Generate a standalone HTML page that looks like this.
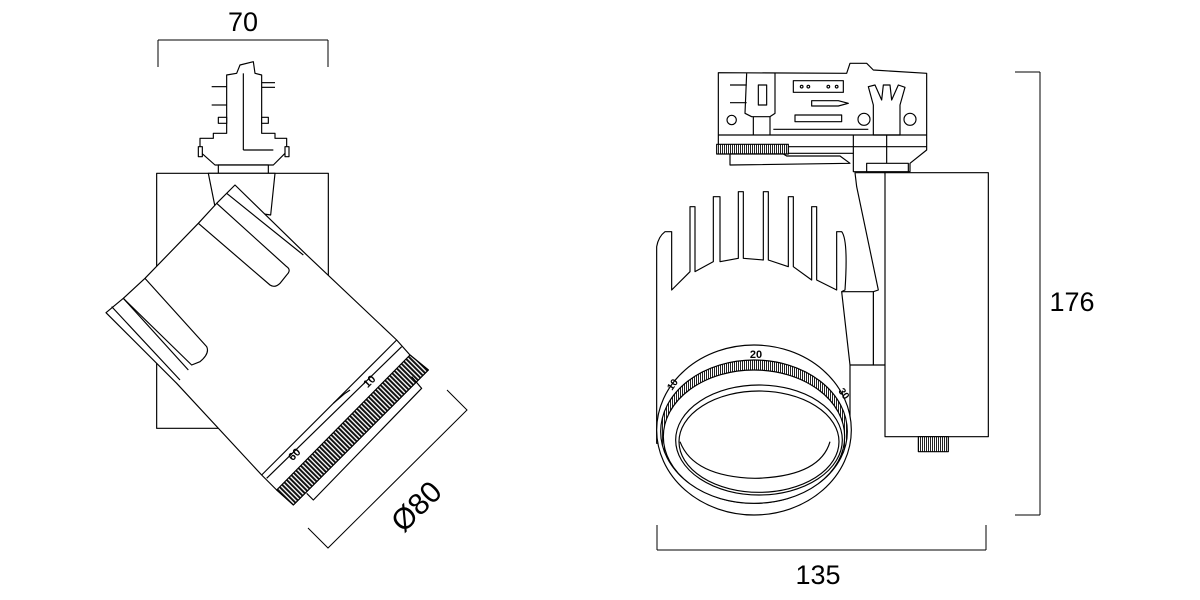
<!DOCTYPE html>
<html><head><meta charset="utf-8"><style>html,body{margin:0;padding:0;background:#fff}svg{display:block}text{font-family:"Liberation Sans",Arial,sans-serif}</style></head>
<body>
<svg width="1200" height="600" viewBox="0 0 1200 600" xmlns="http://www.w3.org/2000/svg">
<defs>
<pattern id="kn" width="10" height="10" patternUnits="userSpaceOnUse" patternTransform="rotate(-45)">
<rect width="10" height="10" fill="#fff"/><rect width="6" height="10" fill="#111"/></pattern>
<pattern id="kv" width="6" height="6" patternUnits="userSpaceOnUse">
<rect width="6" height="6" fill="#fff"/><rect width="3" height="6" fill="#222"/></pattern>
</defs>
<g stroke="#000" stroke-width="1" fill="none">
<line x1="158" y1="40" x2="328" y2="40"/><line x1="158" y1="40" x2="158" y2="67"/><line x1="328" y1="40" x2="328" y2="67"/>
</g>
<text x="243" y="31" font-size="27" text-anchor="middle">70</text>

<g transform="translate(100 40) scale(0.33333)" stroke="#000" stroke-width="3.5" fill="#fff" stroke-linejoin="round">
<rect x="170" y="400" width="515" height="765"/>
<polygon points="300,295 340,295 340,280 380,280 380,105 410,100 420,75 460,65 465,100 485,105 485,280 525,280 525,295 560,295 560,335 520,375 345,375 300,335"/>
<rect x="355" y="375" width="150" height="25"/>
<line x1="430" y1="100" x2="430" y2="330"/><line x1="430" y1="330" x2="520" y2="330"/>
<line x1="335" y1="140" x2="380" y2="140"/><line x1="485" y1="128" x2="525" y2="128"/><line x1="485" y1="142" x2="525" y2="142"/>
<line x1="335" y1="195" x2="380" y2="195"/><rect x="355" y="232" width="25" height="18"/><rect x="485" y="232" width="20" height="18"/>
<rect x="295" y="320" width="12" height="30"/><rect x="555" y="320" width="12" height="30"/>
<polygon points="325,400 525,400 512,525 345,500"/>
<polygon points="18,818 70,775 135,715 295,550 350,490 405,435 615,640 890,900 930,945 985,990 580,1395 530,1350 485,1305 230,1030"/>
<g fill="none">
<path d="M295,550 L510,735 Q525,745 540,730 L560,705 Q575,690 560,680 L350,490"/>
<line x1="380" y1="460" x2="610" y2="645"/>
<line x1="70" y1="775" x2="265" y2="990"/>
<path d="M135,715 L320,920 Q330,940 300,965 L275,975 L70,775"/>
<line x1="35" y1="800" x2="240" y2="1020"/>
<line x1="890" y1="900" x2="485" y2="1305"/>
<line x1="905" y1="920" x2="500" y2="1315"/>
<path d="M700,1090 L735,1060 L750,1050"/>
</g>
<polygon points="930,945 985,990 580,1395 530,1350" fill="url(#kn)"/>
<polyline points="935,1010 965,1045 640,1380 620,1360" fill="none"/>
</g>
<text x="372" y="384" font-size="11" font-weight="bold" transform="rotate(-45 372 384)" text-anchor="middle">10</text>
<text x="297" y="457" font-size="11" font-weight="bold" transform="rotate(-45 297 457)" text-anchor="middle">60</text>
<polyline points="308,528 328,548 467,410 447,390" fill="none" stroke="#000" stroke-width="1"/>
<text x="413" y="518" font-size="30" transform="rotate(-45 413 503)" text-anchor="middle">Ø80</text>

<g transform="translate(640 50) scale(0.33333)" stroke="#000" stroke-width="3.5" fill="#fff" stroke-linejoin="round">
<polygon points="645,368 735,368 745,720 735,945 700,945 700,725 715,720 650,410"/>
<rect x="605" y="725" width="95" height="220"/>
<rect x="735" y="368" width="310" height="792"/>
<rect x="835" y="1160" width="90" height="45" fill="url(#kv)"/>
<polygon points="270,310 640,310 640,365 810,365 810,340 860,300 860,70 700,60 680,40 630,40 620,70 235,68 235,285 270,310"/>
<polygon points="230,283 445,283 445,312 230,312" fill="url(#kv)"/>
<polygon points="270,312 430,312 440,318 600,318 630,340 270,345" />
<rect x="680" y="340" width="125" height="25"/>
<g fill="none">
<line x1="235" y1="255" x2="860" y2="255"/><line x1="445" y1="290" x2="860" y2="290"/>
<line x1="400" y1="238" x2="685" y2="238"/>
<line x1="640" y1="255" x2="640" y2="310"/><line x1="740" y1="255" x2="740" y2="340"/>
<path d="M320,70 L315,190 L335,200 L390,200 L405,190 L405,70"/>
<line x1="340" y1="200" x2="340" y2="255"/><line x1="390" y1="200" x2="390" y2="255"/>
<rect x="355" y="105" width="25" height="60"/>
<line x1="270" y1="105" x2="320" y2="105"/><line x1="270" y1="158" x2="320" y2="158"/>
<circle cx="275" cy="210" r="14"/>
<rect x="460" y="92" width="150" height="35"/>
<circle cx="485" cy="110" r="4"/><circle cx="505" cy="110" r="4"/><circle cx="565" cy="110" r="4"/><circle cx="590" cy="110" r="4"/>
<polygon points="515,152 595,152 625,160 595,168 515,168"/>
<rect x="465" y="195" width="140" height="20"/>
<circle cx="672" cy="208" r="18"/><circle cx="810" cy="208" r="18"/>
<polygon points="700,255 700,165 685,110 705,105 725,150 730,105 750,105 755,150 775,105 795,112 780,165 780,255"/>
</g>
<path d="M50,1180 L50,590 Q55,560 75,545 L95,545 L95,720 L150,665 L150,470 L165,470 L165,665 L220,635 L220,440 L240,440 L240,635 L295,625 L295,425 L310,425 L310,625 L370,630 L370,425 L385,425 L385,630 L445,650 L445,440 L460,440 L460,650 L515,690 L515,470 L530,470 L530,690 L590,720 L590,545 L605,545 Q625,570 615,720 L605,725 L630,945 L630,1180 Z"/>
<ellipse cx="342" cy="1140" rx="292" ry="255"/>
<ellipse cx="342" cy="1145" rx="280" ry="215" fill="url(#kv)"/>
<ellipse cx="342" cy="1160" rx="272" ry="200"/>
<ellipse cx="357" cy="1170" rx="250" ry="165"/>
<ellipse cx="357" cy="1175" rx="240" ry="152" fill="none"/>
<path d="M120,1175 Q160,1280 345,1285 Q540,1280 570,1175" fill="none"/>
</g>
<text x="756" y="358" font-size="11" font-weight="bold" text-anchor="middle">20</text>
<text x="672" y="391" font-size="10" font-weight="bold" transform="rotate(-55 672 391)">10</text>
<text x="838" y="391" font-size="10" font-weight="bold" transform="rotate(55 838 391)">30</text>

<g stroke="#000" stroke-width="1" fill="none">
<line x1="657" y1="550" x2="986" y2="550"/><line x1="657" y1="525" x2="657" y2="550"/><line x1="986" y1="525" x2="986" y2="550"/>
<line x1="1040" y1="72" x2="1040" y2="515"/><line x1="1015" y1="72" x2="1040" y2="72"/><line x1="1015" y1="515" x2="1040" y2="515"/>
</g>
<text x="818" y="584" font-size="27" text-anchor="middle">135</text>
<text x="1072" y="311" font-size="27" text-anchor="middle">176</text>
</svg>
</body></html>
